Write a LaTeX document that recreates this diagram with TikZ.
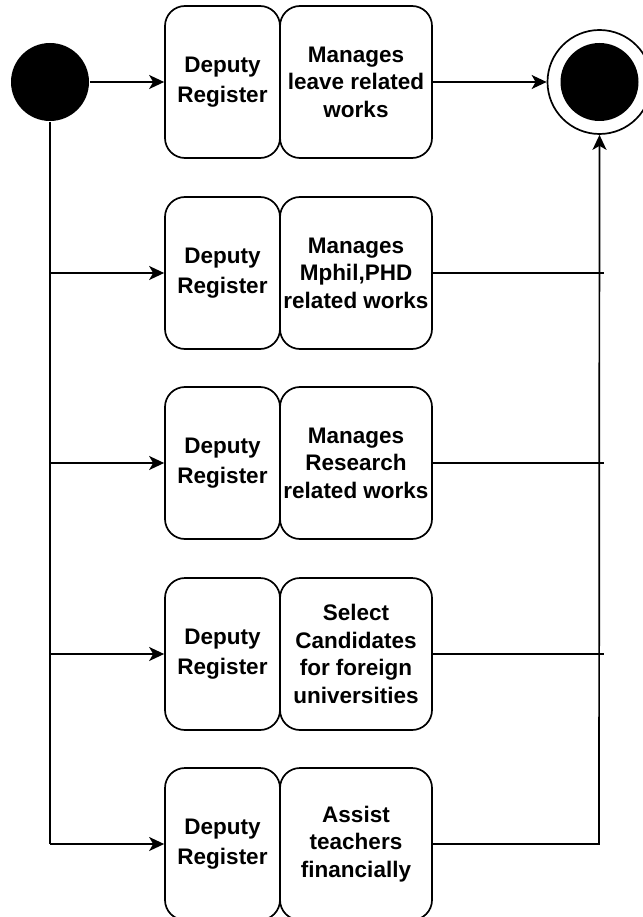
\documentclass[tikz,border=0pt]{standalone}
\usepackage{fontspec}
\setmainfont{Liberation Sans}
\usetikzlibrary{arrows.meta}
\begin{document}
\begin{tikzpicture}[x=1pt,y=-1pt,
  line width=1.7pt,
  box/.style={draw, rounded corners=20pt, minimum height=152pt, align=center,
    font=\bfseries\fontsize{22.5}{27.5}\selectfont, inner sep=0pt},
  who/.style={box, minimum width=115pt, font=\bfseries\fontsize{22.5}{29.5}\selectfont},
  task/.style={box, minimum width=152pt},
  flow/.style={-{Stealth[length=15pt,width=14pt,inset=4pt]}}]
\useasboundingbox (0,0) rectangle (642,917);

% start and end states
\node[circle, fill=black, minimum size=78pt, inner sep=0pt] (start) at (50,82) {};
\node[circle, draw, minimum size=104pt, inner sep=0pt] (finish) at (599.5,82) {};
\node[circle, fill=black, minimum size=78pt, inner sep=0pt] at (finish) {};

% activity rows
\foreach \i/\y/\txt in {1/82/{Manages\\leave related\\works},
                        2/273/{Manages\\Mphil,PHD\\related works},
                        3/463/{Manages\\Research\\related works},
                        4/654/{Select\\Candidates\\for foreign\\universities},
                        5/844/{Assist\\teachers\\financially}} {
  \node[who] (d\i) at (222.5,\y) {Deputy\\Register};
  \node[task] (t\i) at (356,\y) {\txt};
}

% incoming branches
\coordinate (trunk) at (50,844);
\draw[flow] (start) -- (d1);
\draw (start.south) -- (trunk);
\draw[flow] (trunk) -- (d5.west);
\foreach \i in {2,3,4} \draw[flow] (start.south |- d\i.west) -- (d\i.west);

% outgoing branches
\draw[flow] (t1) -- (finish);
\coordinate (merge) at (599,844);
\draw[flow] (t5.east) -- (merge) -- (finish.south);
\foreach \i in {2,3,4} \draw (t\i.east) -- ([xshift=5pt]merge |- t\i.east);
\end{tikzpicture}
\end{document}
